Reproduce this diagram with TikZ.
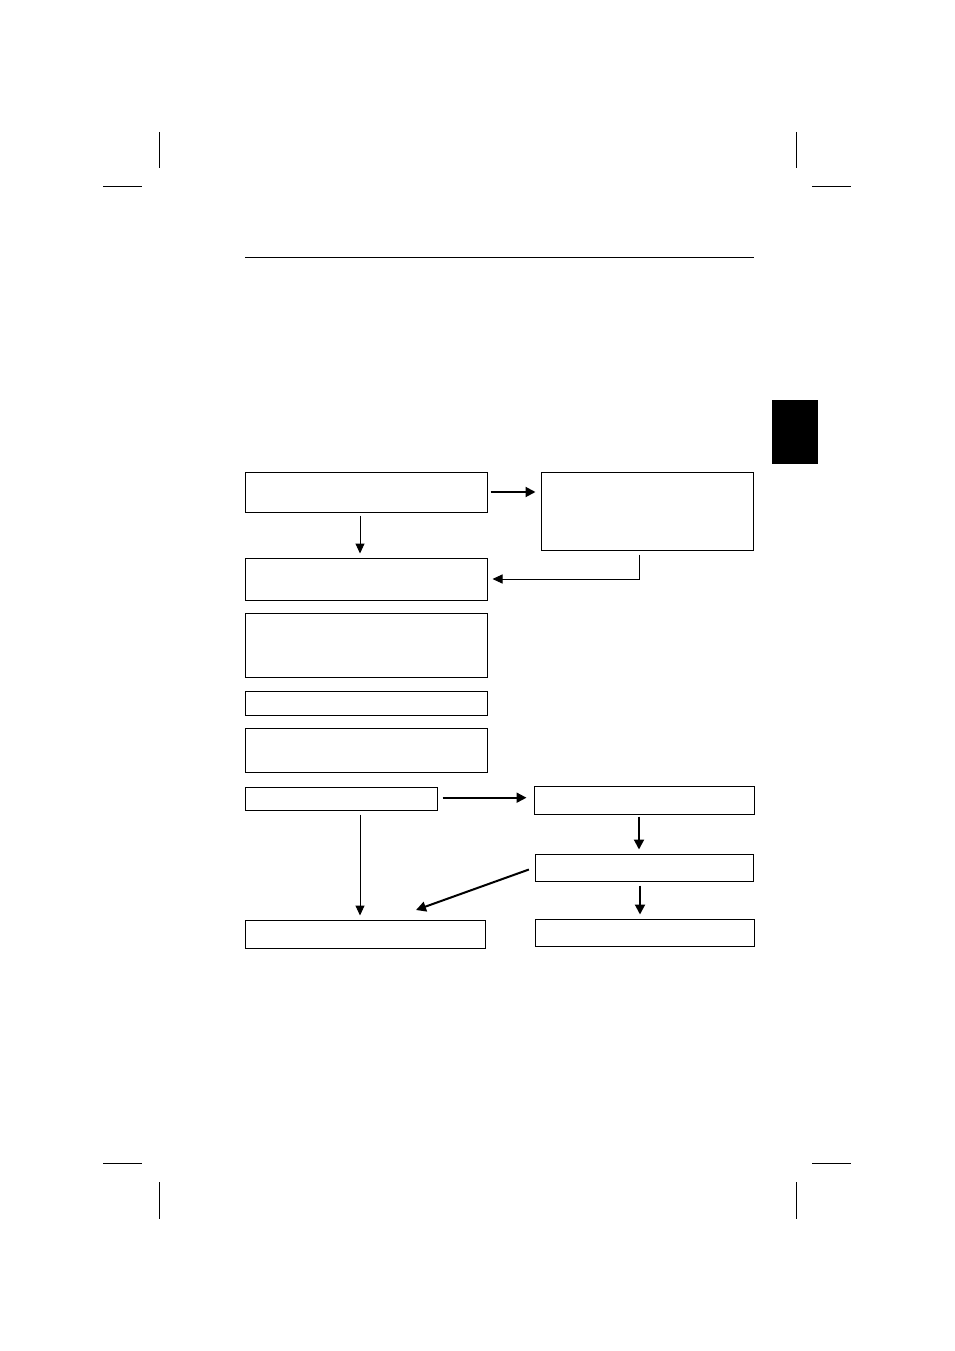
\documentclass[tikz,border=0pt]{standalone}
\usetikzlibrary{arrows.meta}
\begin{document}
\begin{tikzpicture}[x=1pt,y=-1pt,
  box/.style={draw=black,line width=1pt,fill=white,inner sep=0pt,rectangle},
  thinarr/.style={line width=1pt,-{Triangle[length=10pt,width=9pt]}},
  thickarr/.style={line width=2pt,-{Triangle[length=10pt,width=10pt]}},
  cropline/.style={line width=0.9pt}]
\useasboundingbox (0,0) rectangle (954,1351);
% crop marks
\draw[cropline] (159,132) -- (159,168);
\draw[cropline] (103,186) -- (142,186);
\draw[cropline] (796,132) -- (796,168);
\draw[cropline] (812,186) -- (851,186);
\draw[cropline] (103,1163) -- (142,1163);
\draw[cropline] (159,1182) -- (159,1219);
\draw[cropline] (812,1163) -- (851,1163);
\draw[cropline] (796,1182) -- (796,1219);
% header rule
\draw[line width=0.9pt] (245,257) -- (754,257);
% thumb tab
\fill[black] (772,400) rectangle (818,464);
% boxes
\node[box,minimum width=242pt,minimum height=40pt] (A) at (366,492) {};
\node[box,minimum width=212pt,minimum height=78pt] (B) at (647,511) {};
\node[box,minimum width=242pt,minimum height=42pt] (C) at (366,579) {};
\node[box,minimum width=242pt,minimum height=64pt] (D) at (366,645) {};
\node[box,minimum width=242pt,minimum height=24pt] (E) at (366,703) {};
\node[box,minimum width=242pt,minimum height=44pt] (F) at (366,750) {};
\node[box,minimum width=192pt,minimum height=23pt] (G) at (341,798.5) {};
\node[box,minimum width=220pt,minimum height=28pt] (H) at (644,800) {};
\node[box,minimum width=218pt,minimum height=27pt] (I) at (644,867.5) {};
\node[box,minimum width=240pt,minimum height=28pt] (J) at (365,934) {};
\node[box,minimum width=219pt,minimum height=27pt] (K) at (644.5,932.5) {};
\coordinate (jtip) at (416,910);
% connectors
\draw[thickarr,shorten <=3pt,shorten >=5pt] (A.east) -- (B.west |- A.east);
\draw[thinarr,shorten <=3pt,shorten >=4pt] ([xshift=-6pt]A.south) -- ([xshift=-6pt]C.north);
\draw[thinarr,shorten <=4pt,shorten >=5pt] ([xshift=-8pt]B.south) |- (C.east);
\draw[thickarr,shorten <=5pt,shorten >=7pt] ([yshift=0.8pt]G.east) -- ([yshift=0.8pt]G.east -| H.west);
\draw[thinarr,shorten <=4pt,shorten >=4pt] ([xshift=19pt]G.south) -- ([xshift=19pt]G.south |- J.north);
\draw[thickarr,shorten <=2pt,shorten >=4pt] ([xshift=-5pt]H.south) -- ([xshift=-5pt]H.south |- I.north);
\draw[thickarr,shorten <=4pt,shorten >=4pt] ([xshift=-4pt]I.south) -- ([xshift=-4pt]I.south |- K.north);
\draw[thickarr,shorten <=6pt] (I.west) -- (jtip);
\end{tikzpicture}
\end{document}
